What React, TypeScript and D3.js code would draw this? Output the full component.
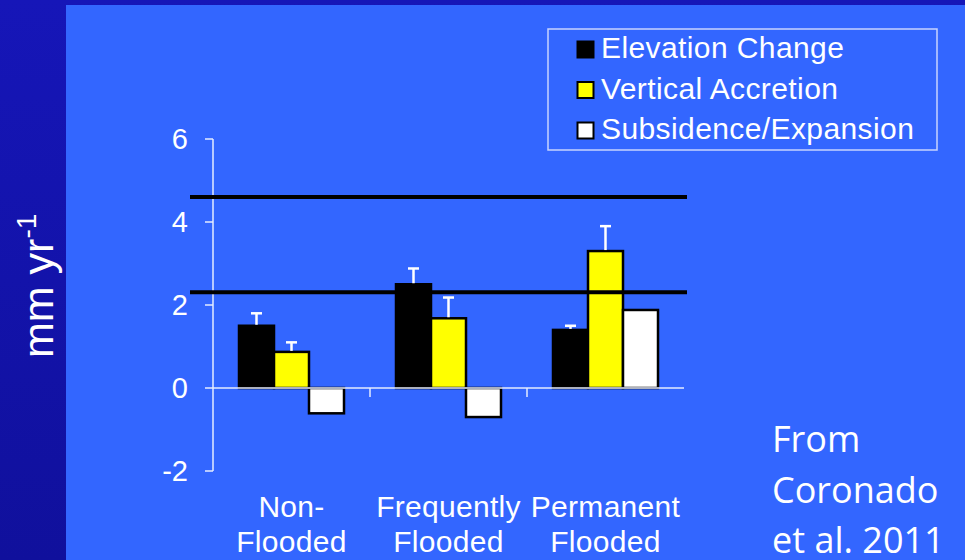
import React from "react";
import * as d3 from "d3";

const categories: string[][] = [["Non-", "Flooded"], ["Frequently", "Flooded"], ["Permanent", "Flooded"]];
const seriesNames = ["Elevation Change", "Vertical Accretion", "Subsidence/Expansion"];
const seriesColors = ["#000000", "#FFFF00", "#FFFFFF"];
const elevationChange = [1.5, 2.5, 1.4];
const verticalAccretion = [0.87, 1.68, 3.3];
const subsidenceExpansion = [-0.61, -0.7, 1.88];
const elevationErr = [0.3, 0.38, 0.1];
const accretionErr = [0.23, 0.5, 0.6];
const subsidenceErr: (number | null)[] = [null, null, null];
const referenceLines = [4.6, 2.31];
const yTicks = [-2, 0, 2, 4, 6];
const sourceLines = ["From", "Coronado", "et al. 2011"];

export default function App() {
  const W = 965, H = 560;
  const y = d3.scaleLinear().domain([-2, 6]).range([471, 139]);
  const catKeys = categories.map((c) => c.join(" "));
  const x0 = d3.scaleBand<string>().domain(catKeys).range([213, 684]);
  const x1 = d3.scaleBand<string>().domain(seriesNames).range([26, 131]);
  const values = [elevationChange, verticalAccretion, subsidenceExpansion];
  const errs = [elevationErr, accretionErr, subsidenceErr];
  const axisColor = "#E6ECFF";
  const font = "'Liberation Sans', Arial, sans-serif";

  return (
    <svg width={W} height={H} style={{ position: "absolute", left: 0, top: 0, display: "block" }}>
      <defs>
        <linearGradient id="side" x1="0" y1="0" x2="0" y2="1">
          <stop offset="0" stopColor="#1616B8" />
          <stop offset="1" stopColor="#10109C" />
        </linearGradient>
      </defs>
      <rect x={0} y={0} width={W} height={H} fill="url(#side)" />
      <rect x={66} y={5} width={W - 66} height={H - 5} fill="#3366FF" />

      {/* y axis title */}
      <text transform="translate(53,358) rotate(-90)" fill="#FFFFFF" fontFamily={font} fontSize={43}>
        mm yr<tspan fontSize={28} dy={-17}>-1</tspan>
      </text>

      {/* y axis */}
      <line x1={213} x2={213} y1={y(6)} y2={y(-2)} stroke={axisColor} strokeWidth={1.5} />
      {yTicks.map((t) => (
        <g key={t}>
          <line x1={205} x2={213} y1={y(t)} y2={y(t)} stroke={axisColor} strokeWidth={1.5} />
          <text x={188} y={y(t) + 10} textAnchor="end" fill="#FFFFFF" fontFamily={font} fontSize={29}>
            {t}
          </text>
        </g>
      ))}

      {/* bars */}
      {catKeys.map((ck, ci) => (
        <g key={ck} transform={`translate(${x0(ck)},0)`}>
          {seriesNames.map((s, si) => {
            const v = values[si][ci];
            const bx = x1(s)!;
            const bw = x1.bandwidth();
            const top = y(Math.max(0, v));
            const bot = y(Math.min(0, v));
            const e = errs[si][ci];
            return (
              <g key={s}>
                <rect x={bx} y={top} width={bw} height={bot - top} fill={seriesColors[si]} stroke="#000" strokeWidth={2.5} />
                {e != null && (
                  <g stroke="#FFFFFF" strokeWidth={2.5}>
                    <line x1={bx + bw / 2} x2={bx + bw / 2} y1={y(v) - 1} y2={y(v + e)} />
                    <line x1={bx + bw / 2 - 5.5} x2={bx + bw / 2 + 5.5} y1={y(v + e)} y2={y(v + e)} />
                  </g>
                )}
              </g>
            );
          })}
        </g>
      ))}

      {/* x axis */}
      <line x1={213} x2={684} y1={y(0)} y2={y(0)} stroke={axisColor} strokeWidth={1.5} />
      {catKeys.slice(1).map((ck) => (
        <line key={ck} x1={x0(ck)!} x2={x0(ck)!} y1={y(0)} y2={y(0) + 9} stroke={axisColor} strokeWidth={1.5} />
      ))}
      {categories.map((c, ci) => (
        <text key={ci} x={x0(catKeys[ci])! + x0.bandwidth() / 2} textAnchor="middle" fill="#FFFFFF" fontFamily={font} fontSize={30} letterSpacing={0.3}>
          <tspan x={x0(catKeys[ci])! + x0.bandwidth() / 2} y={517}>{c[0]}</tspan>
          <tspan x={x0(catKeys[ci])! + x0.bandwidth() / 2} y={552}>{c[1]}</tspan>
        </text>
      ))}

      {/* reference lines */}
      {referenceLines.map((r) => (
        <line key={r} x1={190} x2={687} y1={y(r)} y2={y(r)} stroke="#000" strokeWidth={4} />
      ))}

      {/* legend */}
      <rect x={548} y={29} width={389} height={121} fill="none" stroke="#C8D4FF" strokeWidth={1.5} />
      {seriesNames.map((s, i) => (
        <g key={s}>
          <rect x={577.5} y={41.5 + i * 40.5} width={16} height={16} fill={seriesColors[i]} stroke="#000" strokeWidth={2} />
          <text x={601} y={58 + i * 40.5} fill="#FFFFFF" fontFamily={font} fontSize={30} letterSpacing={0.4}>
            {s}
          </text>
        </g>
      ))}

      {/* source */}
      {sourceLines.map((l, i) => (
        <text key={l} x={772} y={452 + i * 50.5} fill="#FFFFFF" fontFamily="'Open Sans', sans-serif" fontSize={36}>
          {l}
        </text>
      ))}
    </svg>
  );
}
